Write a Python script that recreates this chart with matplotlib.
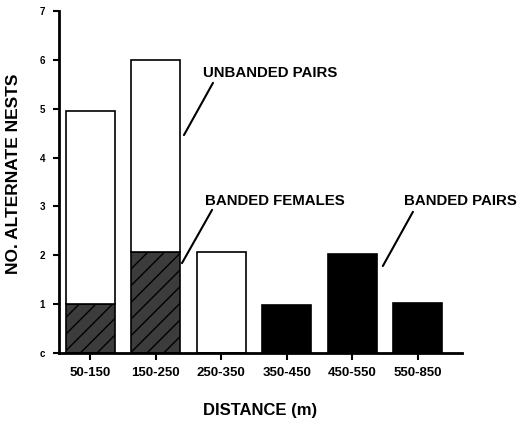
import matplotlib.pyplot as plt

# ========= data =========
categories = ["50-150", "150-250", "250-350", "350-450", "450-550", "550-650"]
banded_females = [1.0, 2.07, 0, 0, 0, 0]
unbanded_pairs = [3.95, 3.93, 2.07, 0, 0, 0]
banded_pairs = [0, 0, 0, 0.98, 2.03, 1.03]
tick_labels = ["50-150", "150-250", "250-350", "350-450", "450-550", "550-850"]

plt.rcParams["font.family"] = ["Liberation Sans", "DejaVu Sans"]
plt.rcParams["font.weight"] = "bold"
plt.rcParams["hatch.color"] = "#8c8c8c"
plt.rcParams["hatch.linewidth"] = 1.0

fig = plt.figure(figsize=(5.24, 4.22), dpi=100)
ax = fig.add_axes([59 / 524, 1 - 353 / 422, (462 - 59) / 524, (353 - 11) / 422])

x = list(range(len(categories)))
w = 0.75
ax.bar(x, banded_females, width=w, color="#3c3c3c", edgecolor="black",
       linewidth=1.2, hatch="//")
ax.bar(x, unbanded_pairs, width=w, bottom=banded_females, color="white",
       edgecolor="black", linewidth=1.2)
ax.bar(x, banded_pairs, width=w, color="black", edgecolor="black", linewidth=1.2)

ax.set_xlim(-0.48, 5.68)
ax.set_ylim(0, 7)
ax.set_yticks(range(8))
ax.set_xticks(x)
ax.set_xticklabels(tick_labels, fontsize=9.5, fontweight="bold")
ax.set_yticklabels([str(i) if i else "c" for i in range(8)], fontsize=7,
                   fontweight="bold")
for s in ["top", "right"]:
    ax.spines[s].set_visible(False)
ax.spines["left"].set_linewidth(2)
ax.spines["bottom"].set_linewidth(2)
ax.tick_params(axis="y", direction="out", length=4, width=1.5, pad=6)
ax.tick_params(axis="x", direction="out", length=5, width=1.5, pad=5)

ax.set_ylabel("NO. ALTERNATE NESTS", fontsize=12.5, fontweight="bold")
ax.yaxis.set_label_coords(-0.094, 0.523)
ax.set_xlabel("DISTANCE (m)", fontsize=12, fontweight="bold")
ax.xaxis.set_label_coords(0.5, -0.145)

# labels and leader lines
labels = ["UNBANDED PAIRS", "BANDED FEMALES", "BANDED PAIRS"]
label_pos = [(1.72, 5.65), (1.75, 3.03), (4.79, 3.03)]
line_from = [(1.43, 4.46), (1.40, 1.84), (4.47, 1.78)]
line_to = [(1.874, 5.53), (1.86, 2.93), (4.93, 2.89)]
for lab, p, a, b in zip(labels, label_pos, line_from, line_to):
    ax.text(p[0], p[1], lab, fontsize=10.8, fontweight="bold",
            ha="left", va="baseline")
    ax.annotate("", xy=a, xytext=b,
                arrowprops=dict(arrowstyle="-", color="black", lw=1.5,
                                shrinkA=0, shrinkB=0))

fig.savefig("out.png", dpi=100)
